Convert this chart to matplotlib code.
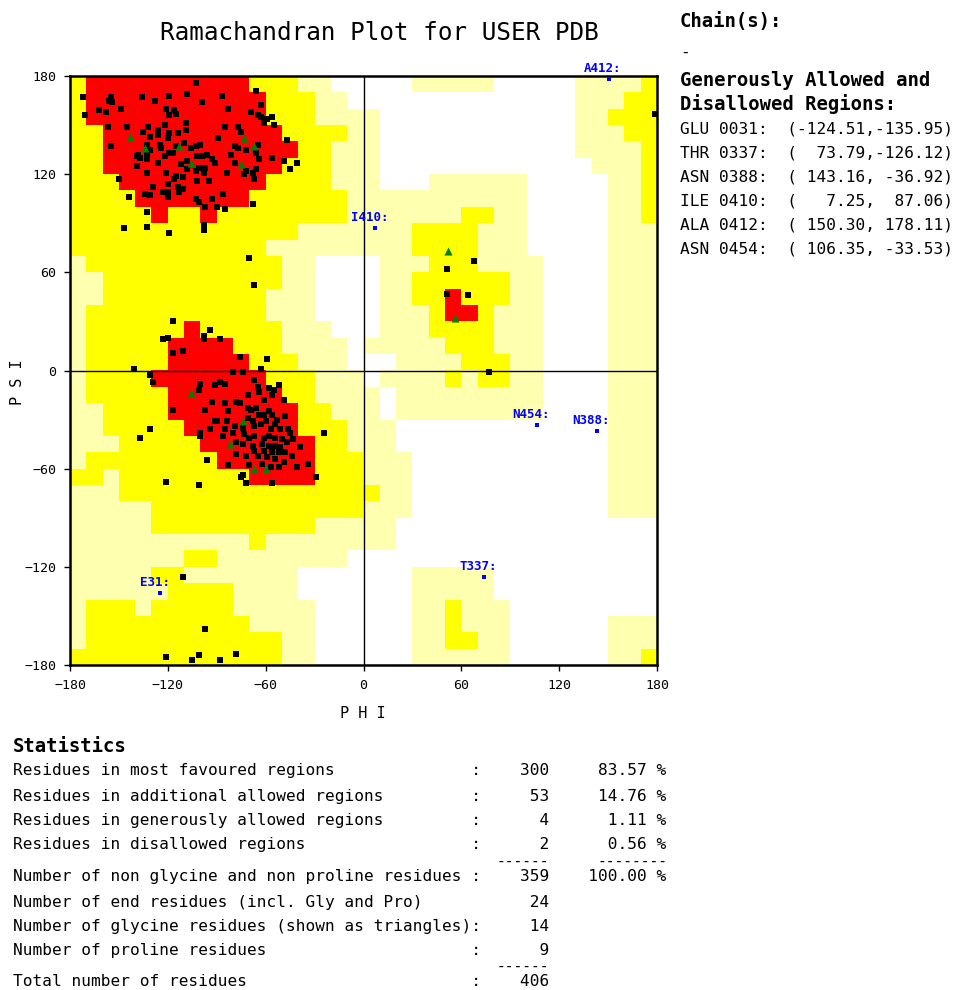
import matplotlib
matplotlib.use("Agg")
import matplotlib.pyplot as plt
import numpy as np
from matplotlib.colors import ListedColormap

plt.rcParams["font.family"] = ["DejaVu Sans Mono"]

# Region map in 10 degree cells (run-length coded).
# Row 0 is psi 170..180, column 0 is phi -180..-170.
# W disallowed, P generously allowed, Y additional allowed, R most favoured
region_rows = [
    "Y1 R10 Y3 P2 W5 P5 W5 P4 Y1",
    "Y1 R11 Y3 P2 W14 P3 Y2",
    "Y1 R11 Y3 P4 W12 P2 Y3",
    "Y2 R11 Y4 P2 W12 P3 Y2",
    "Y2 R12 Y2 P3 W12 P4 Y1",
    "Y2 R11 Y3 P3 W13 P3 Y1",
    "Y3 R9 Y4 P3 W3 P6 W5 P2 Y1",
    "Y4 R7 Y6 P11 W5 P2 Y1",
    "Y5 R1 Y2 R1 Y8 P7 Y2 P2 W5 P2 Y1",
    "Y14 P7 Y4 P3 W5 P3",
    "Y12 P9 Y4 P3 W5 P3",
    "P1 Y12 P2 W4 P3 Y3 P4 W4 P3",
    "P2 Y11 P2 W4 P2 Y6 P2 W4 P3",
    "P2 Y10 P3 W4 P2 Y2 R1 Y3 P2 W4 P3",
    "P1 Y11 P3 W4 P3 Y1 R2 Y1 P3 W4 P3",
    "P1 Y6 R1 Y5 P3 W3 P3 Y4 P3 W4 P3",
    "P1 Y5 R4 Y3 P4 W1 P5 Y3 P3 W4 P3",
    "P1 Y5 R5 Y3 P3 W3 P4 Y3 P2 W4 P3",
    "P1 Y4 R7 Y3 P3 W1 P4 Y1 P1 Y2 P2 W4 P3",
    "P1 Y5 R7 Y2 P4 W1 P9 W4 P3",
    "P2 Y4 R8 Y2 P3 W1 P9 W4 P3",
    "P2 Y5 R7 Y3 P3 W13 P3",
    "P3 Y5 R7 Y2 P3 W13 P3",
    "P1 Y8 R6 Y3 P3 W12 P3",
    "Y2 P1 Y8 R4 Y3 P3 W12 P3",
    "P3 Y16 P2 W12 P3",
    "P5 Y13 P3 W12 P3",
    "P5 Y10 P5 W16",
    "P11 Y1 P8 W16",
    "P7 Y2 P8 W19",
    "P5 Y2 P7 W7 P5 W10",
    "P6 Y4 P4 W7 P5 W10",
    "P1 Y3 P1 Y5 P5 W6 P2 Y1 P3 W9",
    "P1 Y10 P4 W6 P2 Y1 P3 W6 P3",
    "P1 Y12 P2 W6 P2 Y2 P2 W6 P3",
    "Y13 P2 W6 P6 W6 P2 Y1",
]

beta_pts = [
    (-172, 167), (-171, 156), (-155, 167), (-156, 165), (-154, 164), (-149, 160),
    (-162, 159), (-158, 158), (-136, 167), (-128, 165), (-119, 168), (-108, 169),
    (-103, 176), (-99, 164), (-121, 160), (-116, 159), (-119, 156), (-115, 157),
    (-157, 149), (-145, 149), (-155, 137), (-132, 149), (-135, 146), (-126, 147),
    (-126, 144), (-122, 150), (-119, 145), (-120, 142), (-114, 145), (-109, 151),
    (-109, 147), (-131, 143), (-133, 138), (-125, 138), (-124, 136), (-131, 135),
    (-133, 133), (-138, 132), (-139, 131), (-137, 130), (-122, 131), (-119, 133),
    (-117, 133), (-115, 137), (-110, 139), (-106, 136), (-103, 137), (-100, 138),
    (-102, 131), (-99, 131), (-96, 132), (-133, 129), (-126, 127), (-139, 125),
    (-112, 126), (-108, 128), (-108, 123), (-101, 124), (-97, 124), (-103, 122),
    (-98, 121), (-93, 129), (-91, 127), (-133, 121), (-121, 121), (-116, 117),
    (-115, 119), (-111, 118), (-102, 116), (-95, 116), (-150, 117), (-129, 112),
    (-120, 114), (-123, 109), (-120, 109), (-114, 112), (-111, 111), (-113, 109),
    (-134, 108), (-131, 107), (-144, 106), (-120, 106), (-103, 105), (-101, 103),
    (-93, 105), (-133, 97), (-97, 100), (-90, 100), (-98, 89), (-98, 86),
    (-87, 168), (-66, 171), (-83, 160), (-69, 158), (-63, 162), (-65, 156),
    (-63, 155), (-59, 154), (-56, 155), (-61, 151), (-55, 150), (-85, 149),
    (-77, 149), (-75, 146), (-89, 142), (-79, 137), (-77, 136), (-72, 135),
    (-65, 138), (-66, 133), (-81, 132), (-64, 129), (-56, 130), (-49, 128),
    (-47, 141), (-41, 127), (-45, 123), (-79, 127), (-84, 121), (-73, 120),
    (-72, 122), (-68, 121), (-66, 123), (-67, 117), (-86, 108), (-68, 102),
    (-85, 99),
]

other_pts = [
    (-147, 87), (-133, 88), (-119, 84), (-117, 30), (-123, 19), (-120, 20),
    (-117, 11), (-111, 12), (-94, 25), (-98, 21), (-98, 19), (-141, 1),
    (-70, 69), (-67, 52), (-88, 19), (-76, 8), (-59, 7), (-63, 1),
    (179, 157), (68, 67), (51, 62), (51, 47), (64, 46), (77, -1),
    (-111, -126), (-97, -158), (-121, -175), (-101, -174), (-105, -177),
    (-78, -173), (-88, -177),
]

alpha_pts = [
    (-131, -3), (-129, -7), (-100, -8), (-91, -9), (-101, -12), (-93, -19),
    (-117, -24), (-97, -24), (-91, -31), (-94, -36), (-100, -38), (-100, -40),
    (-131, -36), (-137, -41), (-96, -55), (-121, -68), (-101, -70),
    (-80, -1), (-74, -1), (-88, -7), (-85, -8), (-67, -6), (-65, -10),
    (-64, -13), (-58, -11), (-55, -12), (-56, -15), (-52, -9), (-71, -15),
    (-61, -18), (-49, -18), (-85, -20), (-78, -19), (-76, -20), (-71, -23),
    (-83, -25), (-69, -24), (-66, -23), (-58, -25), (-64, -27), (-61, -27),
    (-56, -27), (-53, -30), (-48, -28), (-71, -29), (-68, -31), (-84, -31),
    (-90, -31), (-79, -34), (-74, -35), (-67, -34), (-63, -33), (-60, -31),
    (-54, -33), (-57, -36), (-51, -36), (-46, -36), (-45, -38), (-43, -42),
    (-85, -36), (-86, -40), (-80, -38), (-73, -39), (-70, -41), (-67, -40),
    (-61, -41), (-58, -40), (-54, -41), (-50, -42), (-47, -44), (-78, -44),
    (-74, -45), (-68, -46), (-62, -45), (-58, -46), (-54, -46), (-51, -47),
    (-39, -47), (-67, -49), (-61, -49), (-56, -50), (-52, -50), (-48, -50),
    (-44, -52), (-78, -51), (-72, -52), (-65, -52), (-59, -53), (-54, -54),
    (-49, -56), (-83, -58), (-70, -58), (-62, -57), (-57, -59), (-52, -59),
    (-41, -59), (-34, -57), (-74, -64), (-75, -65), (-72, -69), (-56, -69),
    (-29, -65), (-24, -38),
]

gly_pts = [
    (-143, 143), (-134, 136), (-113, 137), (-106, 127), (-73, 142), (-67, 137),
    (-75, 126), (-106, -14), (-74, -31), (-82, -45), (-67, -60), (-60, -60),
    (52, 73), (56, 32),
]

outlier_names = ["GLU 0031", "THR 0337", "ASN 0388", "ILE 0410", "ALA 0412", "ASN 0454"]
outlier_tags = ["E31:", "T337:", "N388:", "I410:", "A412:", "N454:"]
outlier_phi = [-124.51, 73.79, 143.16, 7.25, 150.30, 106.35]
outlier_psi = [-135.95, -126.12, -36.92, 87.06, 178.11, -33.53]

region_labels = ["Residues in most favoured regions",
                 "Residues in additional allowed regions",
                 "Residues in generously allowed regions",
                 "Residues in disallowed regions"]
region_counts = [300, 53, 4, 2]
region_pcts = [83.57, 14.76, 1.11, 0.56]
total_nongly = 359
other_labels = ["Number of end residues (incl. Gly and Pro)",
                "Number of glycine residues (shown as triangles)",
                "Number of proline residues"]
other_counts = [24, 14, 9]
total_residues = 406


def decode(row):
    out = []
    for tok in row.split():
        out += [tok[0]] * int(tok[1:])
    return out


code = {"W": 0, "P": 1, "Y": 2, "R": 3}
grid = np.array([[code[c] for c in decode(r)] for r in region_rows])

W, H = 956, 990


def fx(x):
    return x / W


def fy(y):
    return 1 - y / H


fig = plt.figure(figsize=(W / 100, H / 100), dpi=100)
ax = fig.add_axes([fx(70), fy(665), 587 / W, 589 / H])

cmap = ListedColormap(["#ffffff", "#ffffb0", "#ffff00", "#ff0000"])
ax.imshow(grid, cmap=cmap, vmin=0, vmax=3, extent=(-180, 180, -180, 180),
          origin="upper", interpolation="nearest", aspect="auto", zorder=0)
ax.axhline(0, color="black", lw=1.0, zorder=1)
ax.axvline(0, color="black", lw=1.0, zorder=1)

pts = np.array(beta_pts + other_pts + alpha_pts)
ax.scatter(pts[:, 0], pts[:, 1], marker="s", s=14, color="black",
           linewidths=0, zorder=3, clip_on=False)
g = np.array(gly_pts)
ax.scatter(g[:, 0], g[:, 1], marker="^", s=34, color="#008000",
           linewidths=0, zorder=3)
ax.scatter(outlier_phi, outlier_psi, marker="s", s=10, color="#0000ff",
           linewidths=0, zorder=4, clip_on=False)
for tag, p, s in zip(outlier_tags, outlier_phi, outlier_psi):
    ax.annotate(tag, (p, s), xytext=(-4, 3), textcoords="offset points",
                ha="center", va="bottom", color="#0000ff", fontsize=9,
                fontweight="bold", annotation_clip=False, zorder=5)

ax.set_xlim(-180, 180)
ax.set_ylim(-180, 180)
ticks = np.arange(-180, 181, 60)
ax.set_xticks(ticks)
ax.set_yticks(ticks)
ax.tick_params(direction="out", length=4, width=1, pad=6, labelsize=9.5)
for sp in ax.spines.values():
    sp.set_linewidth(1.8)

fig.text(fx(379), fy(33), "Ramachandran Plot for USER PDB", ha="center",
         va="center", fontsize=17.5)
fig.text(fx(363), fy(714), "P H I", ha="center", va="center", fontsize=11)
fig.text(fx(18), fy(382), "P S I", ha="center", va="center", fontsize=11,
         rotation=90)

# right-hand panel
fig.text(fx(680), fy(22), "Chain(s):", ha="left", va="center",
         fontsize=13.6, fontweight="bold")
fig.text(fx(680), fy(52), "-", ha="left", va="center", fontsize=11.6)
fig.text(fx(680), fy(80), "Generously Allowed and", ha="left", va="center",
         fontsize=13.6, fontweight="bold")
fig.text(fx(680), fy(104), "Disallowed Regions:", ha="left", va="center",
         fontsize=13.6, fontweight="bold")
for i, (name, p, s) in enumerate(zip(outlier_names, outlier_phi, outlier_psi)):
    fig.text(fx(680), fy(129 + 24 * i), f"{name}:  ({p:7.2f},{s:7.2f})",
             ha="left", va="center", fontsize=11.6)

# statistics block
fs = 11.6
fig.text(fx(13), fy(746), "Statistics", ha="left", va="center",
         fontsize=13.6, fontweight="bold")
for y, lab, c, p in zip([771, 796, 820, 845], region_labels, region_counts, region_pcts):
    fig.text(fx(13), fy(y), f"{lab:<47}:{c:>7}{p:>10.2f} %",
             ha="left", va="center", fontsize=fs)
fig.text(fx(13), fy(877),
         f"{'Number of non glycine and non proline residues':<47}:{total_nongly:>7}{100.0:>10.2f} %",
         ha="left", va="center", fontsize=fs)
seps = [" ", ":", ":"]
for y, lab, c, sep in zip([902, 926, 950], other_labels, other_counts, seps):
    fig.text(fx(13), fy(y), f"{lab:<47}{sep}{c:>7}", ha="left", va="center",
             fontsize=fs)
fig.text(fx(13), fy(982), f"{'Total number of residues':<47}:{total_residues:>7}",
         ha="left", va="center", fontsize=fs)

# underline dashes between the blocks
for y, pieces in [(861, [(549, "------"), (667, "--------")]),
                  (966, [(549, "------")])]:
    for xr, t in pieces:
        fig.text(fx(xr), fy(y), t, ha="right", va="center", fontsize=10.5)

fig.savefig("out.png", dpi=100)
